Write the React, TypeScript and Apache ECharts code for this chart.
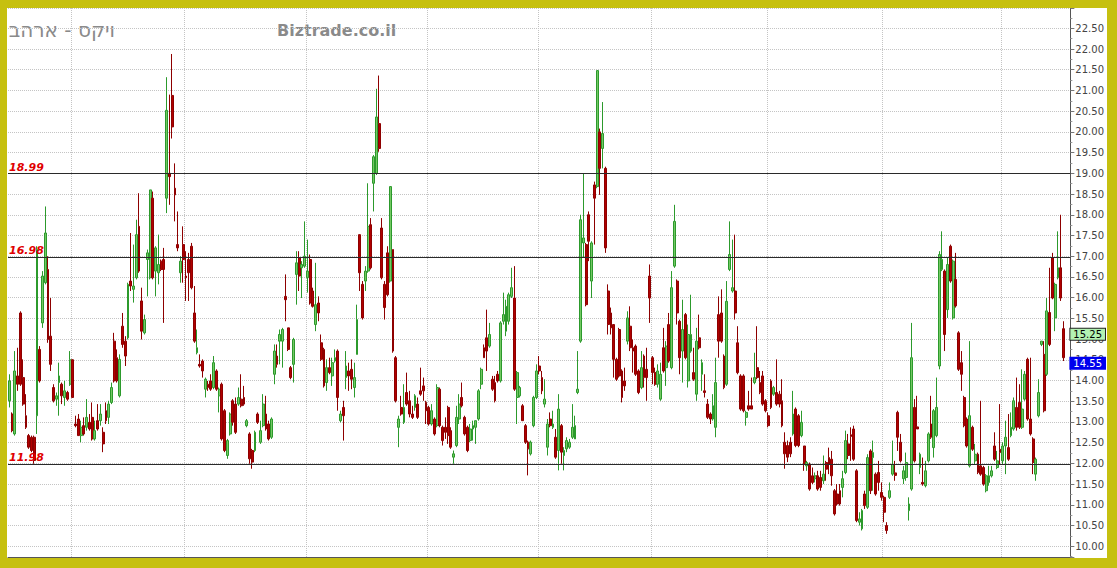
import React, { useEffect, useRef } from "react";
import * as echarts from "echarts";

// Each candle: [open, close, low, high]
const seg1: number[][] = [
  [13.51,13.99,13.35,14.15],[13.19,12.79,12.75,13.23],[12.71,14.23,12.67,14.71],[14.11,13.91,13.75,14.79],
  [15.63,13.91,13.87,15.67],[14.07,13.43,13.39,14.51],[13.15,12.87,12.83,13.67],[12.67,12.39,12.35,12.71],
  [12.63,12.31,12.27,12.67],[12.63,12.07,11.99,12.67],[13.15,17.16,12.71,17.24],[14.75,13.99,13.95,14.83],
  [15.39,16.52,15.27,16.64],[16.36,17.56,16.32,18.20],[16.68,14.99,14.91,17.00],[15.07,14.39,14.23,15.99],
  [13.83,13.51,13.47,13.91],[13.55,13.63,13.39,13.71],[13.95,14.11,13.15,14.43],[13.91,13.63,13.43,13.95],
  [13.59,13.75,13.39,13.99],[13.71,13.55,13.51,13.75],[13.91,14.50,13.87,14.71],[14.50,13.59,13.59,14.51],
  [12.95,12.91,12.87,13.15],[13.07,12.67,12.67,13.19],[12.67,12.87,12.51,13.03],[12.91,12.71,12.67,13.11],
  [12.87,13.11,12.79,13.55],[12.99,12.83,12.79,13.19],[13.11,12.59,12.55,13.47],[12.59,12.79,12.55,13.03],
  [13.03,12.83,12.79,13.43],[13.03,13.19,12.91,13.43],[12.75,12.47,12.27,12.87],[13.27,13.03,12.95,13.47],
  [13.11,13.43,12.95,13.51],[13.47,13.83,13.43,13.95],[14.95,13.99,13.95,15.15],[14.55,13.99,13.95,14.75],
  [13.63,14.51,13.59,14.63],[15.31,14.87,14.79,15.63],[14.95,14.59,14.35,15.07],[15.03,16.32,14.99,16.36],
  [16.40,16.28,16.16,17.56],[16.20,16.28,15.88,17.28],[16.48,17.52,16.44,17.88],[17.72,16.64,16.60,18.52],
  [15.92,15.19,14.99,16.24],[15.15,15.47,15.11,15.59],[16.92,17.08,16.03,17.16],[16.48,18.60,16.44,18.60],
  [18.40,16.48,16.44,18.56],[16.64,17.20,16.03,17.24],[16.60,16.80,16.32,17.52],[16.88,16.68,16.64,16.92],
  [16.92,16.68,15.39,17.20],[18.40,20.52,18.04,21.32],[19.00,18.92,18.24,20.90],[20.88,20.12,19.84,21.88],
  [18.64,18.48,17.84,19.24],[17.28,17.20,17.12,18.08],[16.60,16.88,16.36,17.00],[17.28,16.92,16.36,17.72],
  [16.52,16.48,15.92,17.12],[16.92,16.60,15.92,17.08],[17.24,16.24,16.20,17.32],[15.63,14.95,14.91,16.28],
  [14.67,14.79,14.63,15.23],[14.39,14.35,14.31,14.63],[14.47,14.23,14.07,14.51],[13.79,14.03,13.59,14.07],
  [13.91,13.83,13.75,13.99],[13.99,13.79,13.75,14.15],[13.83,14.43,13.79,14.59],[14.23,13.79,13.75,14.27],
  [13.63,13.79,13.23,13.83],[13.91,12.59,12.55,13.95],[13.27,12.31,12.27,13.31],[12.19,12.55,12.11,12.59],
  [12.71,13.19,12.67,13.23],[13.51,12.99,12.91,13.55],[13.43,12.75,12.71,13.59],[13.43,13.59,13.39,13.83],
  [13.55,13.39,13.35,14.15],[13.59,13.43,13.39,13.87],[12.91,13.03,12.87,13.07],[12.71,12.11,11.99,12.75],
  [12.31,12.03,11.87,12.35],[12.31,12.75,12.27,12.79],[13.19,12.99,12.95,13.23],[12.51,12.79,12.47,13.03],
  [12.91,13.43,12.87,13.67],[13.19,12.83,12.79,13.63],[12.95,12.59,12.55,13.03],[12.63,13.07,12.59,13.11],
];

const seg2: number[][] = [
  [14.15,14.71,13.91,14.87],[14.59,14.39,14.31,14.87],[14.95,15.11,14.39,15.23],[14.95,15.23,14.31,15.27],
  [16.03,15.95,15.43,16.56],[15.27,14.75,14.71,15.27],[14.31,14.07,14.03,14.35],[14.39,14.99,13.95,15.03],
  [16.56,16.84,15.83,17.12],[16.96,16.52,16.16,17.12],[16.72,16.80,15.99,16.88],[16.76,17.00,16.72,17.84],
  [16.48,16.64,16.12,17.40],[16.92,15.87,15.83,17.04],[16.16,15.79,15.76,16.24],[15.35,15.83,15.19,16.84],
  [15.87,15.63,15.43,16.03],[14.91,14.51,14.47,15.11],[14.75,13.87,13.83,14.79],[13.95,14.31,13.75,14.51],
  [14.31,14.19,14.15,14.55],[14.11,14.43,13.87,14.55],[14.47,14.55,14.43,14.75],[14.71,13.59,13.27,14.75],
  [13.03,13.19,12.99,13.27],[13.35,13.15,12.55,13.51],[14.07,14.35,13.79,14.71],[14.23,14.11,13.75,14.43],
  [14.27,14.03,13.79,14.51],[13.83,14.07,13.59,14.43],[14.63,15.47,14.63,15.83],[17.52,16.60,16.16,17.52],
  [16.32,15.51,15.47,16.40],[16.40,16.64,16.16,16.76],[16.64,17.72,16.60,18.76],[17.76,16.72,16.68,17.92],
  [18.76,19.40,18.08,19.44],[19.00,20.36,18.96,21.04],[20.20,19.60,19.52,21.36],[17.68,16.48,16.44,17.92],
  [16.32,15.76,15.47,16.40],[17.08,16.07,16.03,17.24],[16.40,18.68,16.36,18.68],[17.16,14.71,14.67,17.16],
  [14.55,13.51,13.47,14.59],[12.87,13.07,12.39,13.15],[13.35,13.19,13.15,13.63],[12.99,13.35,12.95,13.91],
  [13.71,13.43,13.39,14.19],[13.51,13.19,13.11,13.75],[13.19,13.11,13.07,13.39],[13.35,13.63,13.27,13.67],
  [13.43,13.11,13.07,13.59],[13.75,13.67,13.63,14.31],[13.87,13.75,13.51,14.07],[13.47,13.27,12.95,13.51],
  [13.35,12.95,12.91,13.39],[12.95,13.27,12.91,13.43],[13.07,12.71,12.67,13.11],[12.91,13.83,12.87,13.91],
  [13.79,12.91,12.87,13.83],[12.87,12.55,12.43,12.91],[12.87,12.75,12.59,13.11],[13.35,12.67,12.47,13.39],
  [12.79,12.39,12.35,12.87],[12.15,12.23,11.99,12.31],[12.43,13.11,12.39,13.39],[13.07,13.43,12.95,13.67],
  [13.59,13.39,13.35,13.95],[13.11,12.71,12.67,13.15],[12.87,12.31,12.27,12.91],[12.55,12.83,12.51,12.95],
  [12.83,12.91,12.55,13.03],[12.87,13.03,12.47,13.03],[13.07,13.75,13.03,13.79],[13.91,14.27,13.79,14.31],
  [14.79,14.55,14.55,14.87],[15.03,14.71,14.23,15.71],[14.83,15.11,14.79,15.39],[14.03,13.79,13.75,14.11],
  [13.95,13.51,13.47,14.11],[14.15,13.99,13.95,14.23],[13.99,15.39,13.95,15.43],[15.43,15.59,15.35,16.12],
  [15.19,15.79,15.07,15.95],[15.43,16.07,15.35,16.12],[16.03,16.24,15.99,16.72],[15.99,13.79,13.75,16.76],
  [13.59,14.19,12.95,14.23],[13.63,13.83,13.59,13.87],[13.39,13.03,13.03,13.43],[12.91,12.51,12.47,12.95],
  [12.51,12.35,11.71,12.55],[12.23,12.51,12.19,12.55],[12.91,13.59,12.87,13.63],[13.59,14.23,13.55,14.39],
];

const seg3: number[][] = [
  [14.35,14.23,14.15,14.59],[14.07,13.75,13.67,14.23],[13.43,13.55,13.35,14.03],[12.39,12.95,12.19,13.07],
  [13.07,12.91,12.87,13.23],[12.87,12.95,12.83,13.27],[12.63,12.15,12.11,12.83],[12.31,13.31,11.83,13.67],
  [12.91,12.27,11.99,12.95],[12.19,12.31,11.83,12.39],[12.35,12.55,12.27,12.63],[12.39,12.51,12.35,12.59],
  [12.63,12.87,12.59,13.43],[12.59,12.91,12.59,13.15],[13.71,13.79,13.67,14.71],[14.95,17.88,14.91,18.00],
  [17.32,17.44,16.96,19.00],[17.28,15.83,15.79,17.32],[18.00,17.36,16.88,18.08],[16.40,17.32,15.99,17.36],
  [18.72,18.40,17.28,18.80],[18.68,21.48,18.64,21.48],[20.00,19.12,18.48,20.08],[19.60,19.96,19.12,20.72],
  [19.12,17.20,17.08,19.16],[16.16,15.35,15.11,16.32],[15.63,15.27,15.11,15.76],[15.35,14.51,14.07,15.35],
  [14.51,14.03,13.99,14.55],[15.23,14.11,14.07,15.27],[14.23,13.59,13.47,14.27],[13.99,13.87,13.75,14.31],
  [14.95,15.51,14.87,15.67],[15.31,14.79,14.71,15.79],[14.79,14.71,14.19,14.99],[14.83,14.15,14.11,14.87],
  [14.23,13.71,13.67,14.27],[13.83,14.31,13.79,14.71],[14.59,14.07,13.83,14.63],[14.27,14.07,13.51,14.79],
  [16.52,15.99,15.39,16.80],[14.55,14.19,13.91,14.59],[14.19,13.91,13.87,14.31],[13.91,14.23,13.83,14.39],
  [13.55,14.15,13.51,14.43],[14.79,14.23,14.19,15.27],[14.31,14.83,13.87,14.95],[15.35,14.47,14.43,15.63],
  [14.31,16.24,14.27,16.64],[16.76,17.84,16.72,18.24],[16.40,15.63,15.35,16.44],[15.43,14.55,14.15,15.47],
  [14.71,15.23,13.95,15.95],[15.59,14.55,14.51,15.63],[13.99,15.11,13.83,15.35],[14.71,15.11,14.67,16.07],
  [14.19,14.03,13.99,14.79],[13.67,14.95,13.51,15.27],[15.03,14.79,14.75,15.59],[14.15,14.43,13.75,14.51],
  [13.75,13.71,13.59,14.15],[13.43,13.11,13.07,13.55],[13.19,13.07,12.95,13.23],[13.07,13.39,13.03,13.67],
  [12.87,13.95,12.63,14.55],[15.59,14.95,14.55,16.03],[15.63,14.95,14.91,16.20],[14.59,13.83,13.79,14.63],
  [13.91,15.91,13.87,16.40],[16.68,17.04,16.64,17.84],[16.16,16.24,16.12,17.40],[16.16,15.63,15.47,17.52],
  [14.91,14.19,14.15,15.31],[14.11,13.31,13.27,14.15],[14.11,13.27,13.23,14.15],[13.11,13.23,12.91,13.27],
  [13.39,13.31,13.27,13.75],[13.39,13.31,13.31,14.07],[13.95,14.07,13.91,14.67],[14.31,14.07,14.03,15.31],
  [13.95,13.71,13.67,14.23],[14.11,13.43,13.39,14.23],[13.51,13.27,13.23,13.55],[13.15,12.91,12.87,13.23],
  [13.99,13.35,13.31,14.03],[13.67,13.83,13.63,13.87],[13.71,13.43,13.39,14.51],[13.67,13.43,13.35,13.75],
  [13.51,12.91,12.87,14.03],[12.51,12.23,11.87,12.75],[12.43,12.15,12.03,12.55],[12.51,12.23,12.15,12.63],
  [12.71,13.19,12.67,13.75],[13.31,12.43,12.39,13.35],[13.15,12.43,12.39,13.19],[12.67,12.99,12.63,13.27],
];

const seg4: number[][] = [
  [12.42,11.98,11.82,12.42],[11.94,12.02,11.82,12.06],[11.98,11.38,11.34,12.02],[11.70,11.54,11.50,11.90],
  [11.63,11.70,11.54,11.78],[11.70,11.38,11.34,11.82],[11.66,11.42,11.34,11.82],[11.58,11.74,11.50,12.19],
  [12.02,11.86,11.58,12.06],[12.14,11.98,11.74,12.38],[12.10,11.70,11.46,12.30],[11.34,10.78,10.74,11.38],
  [11.26,11.02,10.98,11.50],[11.34,11.02,10.98,11.50],[11.42,11.63,11.18,11.82],[11.78,12.55,11.74,12.79],
  [12.47,12.19,12.10,12.71],[12.69,12.65,12.06,12.87],[12.83,12.10,12.06,12.91],[11.82,10.62,10.58,11.86],
  [10.58,10.66,10.50,10.82],[10.42,10.86,10.38,10.90],[11.26,10.98,10.90,11.34],[10.94,12.14,10.90,12.22],
  [12.30,11.34,11.26,12.34],[12.14,12.26,11.34,12.55],[11.74,11.26,11.22,11.78],[11.78,11.54,11.34,12.06],
  [11.30,11.18,11.10,11.54],[11.18,10.82,10.58,11.22],[10.50,10.38,10.30,10.58],[11.18,11.34,11.14,11.54],
  [11.74,11.98,11.70,12.55],[11.77,11.71,11.58,12.06],[13.23,12.63,12.30,13.27],[12.51,12.06,12.02,12.71],
  [11.63,11.82,11.50,11.94],[11.66,12.02,11.58,12.26],[10.86,11.02,10.62,11.18],[11.38,14.55,11.34,15.39],
  [13.35,12.06,12.02,13.55],[12.88,12.83,12.83,13.63],[11.90,12.22,11.74,12.26],[11.54,11.50,11.46,12.14],
  [11.46,11.82,11.42,12.06],[12.06,12.71,12.02,12.75],[12.95,12.63,12.59,13.63],[12.38,13.27,12.14,13.31],
  [12.67,13.35,12.63,14.07],[14.35,17.04,14.27,17.12],[16.68,16.92,16.64,17.60],[16.64,15.11,14.71,16.68],
  [15.71,16.80,15.51,16.96],[17.24,16.40,16.36,17.28],[15.51,16.88,15.47,16.92],[16.44,15.80,15.76,17.08],
  [15.15,14.27,14.23,15.19],[14.43,14.15,13.75,14.71],[13.59,12.91,12.87,13.63],[13.07,12.42,12.38,13.11],
  [11.94,13.15,11.90,14.95],[12.87,12.34,12.30,12.91],[12.06,12.22,11.98,12.47],[12.22,11.78,11.74,12.26],
  [11.94,11.74,11.70,13.51],[11.90,11.50,11.46,11.94],[11.34,11.70,11.30,11.74],[11.54,11.70,11.46,11.94],
  [11.70,11.82,11.66,11.94],[12.42,12.10,12.06,12.75],[11.90,12.06,11.86,12.30],[12.34,12.26,11.98,13.43],
  [12.06,12.42,11.98,12.51],[12.42,12.63,11.74,13.03],[12.38,12.10,12.06,13.19],[12.67,12.87,12.63,13.23],
  [12.83,13.51,12.79,13.59],[13.35,12.87,12.79,14.07],[13.47,12.87,12.83,13.91],[12.87,13.31,12.83,14.27],
  [13.55,14.15,13.51,14.23],[14.51,13.07,13.03,14.55],[13.07,12.71,12.67,14.55],[12.59,12.02,11.74,12.63],
  [11.74,12.10,11.58,12.14],[13.15,13.71,13.11,14.03],[14.87,14.95,14.83,14.95],[14.63,13.27,13.23,14.95],
  [14.15,15.68,14.11,15.99],[15.64,14.87,14.83,16.72],[16.96,15.99,15.96,17.08],[15.51,16.32,15.19,16.36],
  [16.48,16.72,16.44,17.60],[16.72,15.99,15.92,18.00],[15.25,14.55,14.47,15.43],
];

const candles: number[][] = [...seg1, ...seg2, ...seg3, ...seg4];
const categories: string[] = candles.map((_, i) => String(i + 1)).concat(["+1", "+2"]);
const monthStarts: number[] = [23, 64, 108, 152, 192, 233, 275, 317, 360];
const levels: number[] = [18.99, 16.98, 11.98];
const priceTags: number[] = [15.25, 14.55];
const titleHe = "ויקס - ארהב";
const titleSite = "Biztrade.co.il";

export default function App() {
  const ref = useRef<HTMLDivElement>(null);

  useEffect(() => {
    if (!ref.current) return;
    const chart = echarts.init(ref.current, undefined, { renderer: "svg" });
    const isMonth = (i: number) => monthStarts.includes(i);

    const levelLines = levels.map((v) => ({
      yAxis: v,
      lineStyle: { color: "#2a2a2a", width: 1.2, type: "solid" },
      label: {
        show: true,
        position: "insideStartTop",
        formatter: v.toFixed(2),
        color: "#e00000",
        fontStyle: "italic",
        fontWeight: "bold",
        fontSize: 11,
        fontFamily: "DejaVu Sans",
        distance: [1, 1],
      },
    }));
    const tagLines = priceTags.map((v, i) => ({
      yAxis: v,
      lineStyle: { color: "rgba(0,0,0,0)", width: 0 },
      label: {
        show: true,
        position: "end",
        distance: 0,
        verticalAlign: "top",
        formatter: v.toFixed(2),
        color: i === 0 ? "#000" : "#fff",
        backgroundColor: i === 0 ? "#b3f2b3" : "#0000ee",
        borderColor: i === 0 ? "#222" : "#0000ee",
        borderWidth: 1,
        padding: [1, 3, 0, 3],
        fontSize: 10,
        fontFamily: "DejaVu Sans",
      },
    }));

    chart.setOption({
      animation: false,
      backgroundColor: "#ffffff",
      grid: { left: 1, right: 35, top: 0, bottom: 1 },
      xAxis: {
        type: "category",
        data: categories,
        boundaryGap: true,
        axisLine: { show: true, lineStyle: { color: "#555", width: 1 } },
        axisTick: { show: false },
        axisLabel: { show: false },
        splitLine: {
          show: true,
          interval: (i: number) => isMonth(i),
          lineStyle: { color: "#c4c4c4", type: "dotted", width: 1 },
        },
      },
      yAxis: {
        type: "value",
        position: "right",
        min: 9.74,
        max: 22.99,
        minInterval: 0.5,
        maxInterval: 0.5,
        splitNumber: 26,
        axisLine: { show: true, lineStyle: { color: "#555", width: 1 } },
        axisTick: { show: true, length: 4, lineStyle: { color: "#777" } },
        minorTick: { show: true, splitNumber: 2, length: 2, lineStyle: { color: "#999" } },
        axisLabel: {
          showMinLabel: false,
          showMaxLabel: false,
          formatter: (v: number) => v.toFixed(2),
          color: "#444",
          fontSize: 10,
          fontFamily: "DejaVu Sans",
          margin: 5,
        },
        splitLine: { show: true, lineStyle: { color: "#c4c4c4", type: "dotted", width: 1 } },
      },
      graphic: [
        {
          type: "text",
          x: 108,
          y: 22,
          style: {
            text: titleHe,
            fill: "#8a8a8a",
            font: '20px "DejaVu Sans"',
            textAlign: "right",
            textVerticalAlign: "middle",
          },
        },
        {
          type: "text",
          x: 270,
          y: 22,
          style: {
            text: titleSite,
            fill: "#8a8a8a",
            font: 'bold 16px "DejaVu Sans"',
            textAlign: "left",
            textVerticalAlign: "middle",
          },
        },
      ],
      series: [
        {
          type: "candlestick",
          data: candles,
          barWidth: "85%",
          itemStyle: {
            color: "#74c864",
            color0: "#b00000",
            borderColor: "#2c9a2c",
            borderColor0: "#8e0000",
            borderWidth: 1,
          },
          markLine: {
            silent: true,
            symbol: ["none", "none"],
            animation: false,
            z: 10,
            data: [...levelLines, ...tagLines],
          },
        },
      ],
    });
    return () => chart.dispose();
  }, []);

  return (
    <div
      style={{
        position: "fixed",
        left: 0,
        top: 0,
        width: 1117,
        height: 568,
        background: "#c6c010",
      }}
    >
      <div
        ref={ref}
        style={{ position: "absolute", left: 7, top: 8, width: 1100, height: 550, background: "#fff" }}
      />
    </div>
  );
}
